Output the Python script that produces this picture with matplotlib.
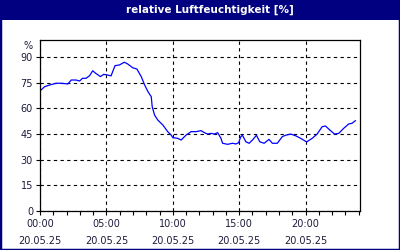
import matplotlib
matplotlib.use("Agg")
import matplotlib.pyplot as plt
from matplotlib.patches import Rectangle
from matplotlib.ticker import MultipleLocator

# Messwerte (Stunden seit 00:00, rel. Luftfeuchte in %)
hours = [0.0, 0.35, 0.73, 1.22, 1.6, 2.1, 2.35, 2.72, 2.98, 3.2, 3.47, 3.73, 3.97,
         4.2, 4.55, 4.8, 5.1, 5.35, 5.65, 5.98, 6.35, 6.6, 6.98, 7.3, 7.63, 7.88,
         8.13, 8.38, 8.45, 8.63, 8.87, 9.25, 9.62, 9.88, 10.0, 10.37, 10.63, 11.0,
         11.38, 11.75, 12.13, 12.38, 12.62, 12.88, 13.13, 13.38, 13.63, 13.75, 14.13,
         14.5, 14.75, 14.95, 15.13, 15.25, 15.5, 15.75, 16.0, 16.3, 16.55, 16.88,
         17.25, 17.5, 17.87, 18.25, 18.5, 18.88, 19.25, 19.63, 20.08, 20.5, 20.87,
         21.25, 21.5, 21.88, 22.18, 22.5, 22.88, 23.25, 23.5, 23.75]
humidity = [70.2, 72.7, 73.7, 74.7, 74.7, 74.3, 76.6, 76.6, 76.0, 77.6, 77.6, 79.1, 82.0,
            80.5, 78.6, 79.9, 79.5, 79.0, 85.0, 85.4, 87.0, 86.0, 83.8, 83.0, 78.5, 73.7,
            69.8, 66.8, 61.0, 56.1, 53.2, 50.3, 46.4, 44.4, 42.9, 42.5, 41.5, 44.4,
            46.4, 46.4, 47.0, 45.8, 45.0, 45.4, 45.0, 45.8, 42.5, 39.6, 39.0,
            39.6, 39.2, 39.9, 43.5, 44.3, 40.5, 39.6, 41.5, 44.3, 40.5, 39.6,
            41.9, 39.6, 39.6, 43.5, 44.3, 45.0, 44.0, 42.5, 40.4, 42.5, 45.0,
            49.3, 49.7, 47.0, 45.0, 45.4, 48.4, 50.9, 51.3, 52.8]

x_ticks = [0, 5, 10, 15, 20]
x_labels = ["00:00\n20.05.25", "05:00\n20.05.25", "10:00\n20.05.25",
            "15:00\n20.05.25", "20:00\n20.05.25"]
y_ticks = [0, 15, 30, 45, 60, 75, 90]

navy = "#000080"
text_col = "#1c1c3c"

fig = plt.figure(figsize=(4, 2.5), dpi=100)
fig.patch.set_facecolor("white")

# Rahmen und Titelleiste
fig.add_artist(Rectangle((0, 0), 1, 1, transform=fig.transFigure,
                         facecolor="none", edgecolor=navy, linewidth=2.5))
fig.add_artist(Rectangle((0, 1 - 20 / 250), 1, 20 / 250, transform=fig.transFigure,
                         facecolor=navy, edgecolor="none"))
fig.text(0.525, 1 - 10 / 250, "relative Luftfeuchtigkeit [%]", color="white",
         fontsize=7.5, fontweight="bold", ha="center", va="center")

ax = fig.add_axes([0.1, 1 - 211 / 250, 0.8, 171 / 250])
ax.plot(hours, humidity, color="#0000ff", linewidth=0.9)

ax.set_xlim(0, 24.1)
ax.set_ylim(0, 100)
ax.set_xticks(x_ticks)
ax.set_xticklabels(x_labels, linespacing=1.9)
ax.xaxis.set_minor_locator(MultipleLocator(1))
ax.set_yticks(y_ticks)

ax.grid(True, which="major", color="black", linestyle=(0, (3, 3)), linewidth=0.8)
ax.tick_params(axis="both", which="major", labelsize=7, colors="black",
               labelcolor=text_col, length=3, width=0.8, pad=2)
ax.tick_params(axis="x", which="major", pad=2.5)
ax.tick_params(axis="x", which="minor", length=3, width=0.8, color="black")
for s in ax.spines.values():
    s.set_color("black")
    s.set_linewidth(0.9)

ax.annotate("%", xy=(0, 1), xycoords="axes fraction", xytext=(-5, -1),
            textcoords="offset points", ha="right", va="top",
            fontsize=7, color=text_col)

fig.savefig("out.png", dpi=100)
